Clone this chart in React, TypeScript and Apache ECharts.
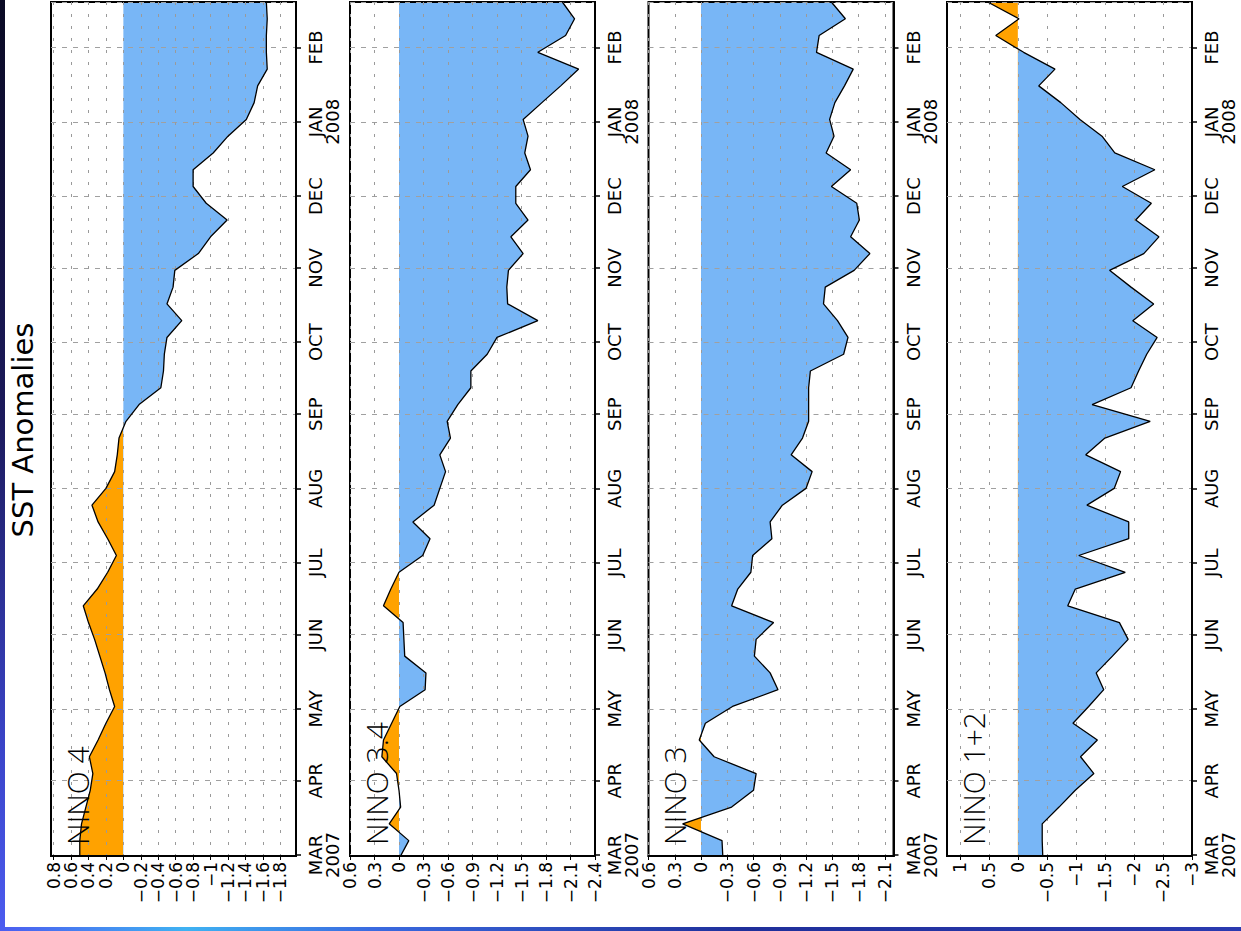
import React, { useEffect, useRef } from 'react';
import * as echarts from 'echarts';

// Weekly dates (Wednesday-centred weeks)
const weeks = [
  '2007-02-28', '2007-03-07', '2007-03-14', '2007-03-21', '2007-03-28',
  '2007-04-04', '2007-04-11', '2007-04-18', '2007-04-25',
  '2007-05-02', '2007-05-09', '2007-05-16', '2007-05-23', '2007-05-30',
  '2007-06-06', '2007-06-13', '2007-06-20', '2007-06-27',
  '2007-07-04', '2007-07-11', '2007-07-18', '2007-07-25',
  '2007-08-01', '2007-08-08', '2007-08-15', '2007-08-22', '2007-08-29',
  '2007-09-05', '2007-09-12', '2007-09-19', '2007-09-26',
  '2007-10-03', '2007-10-10', '2007-10-17', '2007-10-24', '2007-10-31',
  '2007-11-07', '2007-11-14', '2007-11-21', '2007-11-28',
  '2007-12-05', '2007-12-12', '2007-12-19', '2007-12-26',
  '2008-01-02', '2008-01-09', '2008-01-16', '2008-01-23', '2008-01-30',
  '2008-02-06', '2008-02-13', '2008-02-20',
];

const nino4 = [
  0.5, 0.5, 0.48, 0.43, 0.38, 0.35, 0.39, 0.29, 0.2, 0.1,
  0.16, 0.21, 0.27, 0.33, 0.4, 0.46, 0.3, 0.18, 0.08, 0.18,
  0.29, 0.36, 0.2, 0.1, 0.07, 0.05, -0.03, -0.18, -0.43, -0.46,
  -0.47, -0.5, -0.67, -0.5, -0.57, -0.59, -0.86, -1.0, -1.19, -0.95,
  -0.8, -0.8, -1.03, -1.2, -1.41, -1.5, -1.54, -1.65, -1.64, -1.64,
  -1.65, -1.64,
];

const nino34 = [
  -0.01, -0.12, 0.12, -0.02, 0.0, 0.03, 0.21, 0.19, 0.09, -0.01,
  -0.32, -0.33, -0.07, -0.06, -0.05, 0.19, 0.1, 0.0, -0.29, -0.38,
  -0.17, -0.43, -0.5, -0.57, -0.5, -0.63, -0.59, -0.72, -0.88, -0.88,
  -1.08, -1.2, -1.7, -1.33, -1.32, -1.34, -1.52, -1.37, -1.58, -1.43,
  -1.43, -1.61, -1.54, -1.58, -1.52, -1.75, -1.98, -2.2, -1.7, -2.04,
  -2.15, -2.0,
];

const nino3 = [
  -0.25, -0.24, 0.21, -0.35, -0.6, -0.63, -0.15, 0.02, -0.05, -0.36,
  -0.88, -0.79, -0.61, -0.63, -0.83, -0.35, -0.42, -0.57, -0.59, -0.81,
  -0.79, -0.93, -1.2, -1.27, -1.03, -1.16, -1.23, -1.23, -1.23, -1.25,
  -1.63, -1.68, -1.56, -1.4, -1.42, -1.75, -1.93, -1.71, -1.81, -1.78,
  -1.49, -1.71, -1.43, -1.52, -1.47, -1.53, -1.64, -1.74, -1.32, -1.35,
  -1.65, -1.49,
];

const nino12 = [
  -0.43, -0.42, -0.42, -0.71, -0.99, -1.31, -1.08, -1.37, -0.95, -1.22,
  -1.48, -1.35, -1.63, -1.9, -1.75, -0.86, -0.99, -1.85, -1.05, -1.91,
  -1.91, -1.19, -1.66, -1.77, -1.17, -1.5, -2.28, -1.28, -1.95, -2.08,
  -2.22, -2.4, -1.98, -2.34, -1.95, -1.58, -2.17, -2.43, -2.03, -2.3,
  -1.8, -2.36, -1.67, -1.45, -1.07, -0.74, -0.36, -0.64, -0.1, 0.38,
  -0.02, 0.52,
];

// value-axis tick labels for each panel
const ticks4 = [0.8, 0.6, 0.4, 0.2, 0, -0.2, -0.4, -0.6, -0.8, -1, -1.2, -1.4, -1.6, -1.8];
const ticks34 = [0.6, 0.3, 0, -0.3, -0.6, -0.9, -1.2, -1.5, -1.8, -2.1, -2.4];
const ticks3 = [0.6, 0.3, 0, -0.3, -0.6, -0.9, -1.2, -1.5, -1.8, -2.1];
const ticks12 = [1, 0.5, 0, -0.5, -1, -1.5, -2, -2.5, -3];

const panelNames = ['NINO 4', 'NINO 3.4', 'NINO 3', 'NINO 1+2'];
const panelSeries = [nino4, nino34, nino3, nino12];
const panelTicks = [ticks4, ticks34, ticks3, ticks12];
const axisMax = [0.83, 0.6, 0.6, 1.22];
const axisMin = [-1.98, -2.4, -2.2, -3];
const monthLabels = ['JAN', 'FEB', 'MAR', 'APR', 'MAY', 'JUN', 'JUL', 'AUG', 'SEP', 'OCT', 'NOV', 'DEC'];
const timeMin = '2007-02-28 14:00:00';
const timeMax = '2008-02-20';
const titleText = 'SST Anomalies';

// layout
const GRID_LEFT = [51, 350, 648.5, 947];
const GRID_W = 245;
const GRID_TOP = 2;
const GRID_H = 854;
const ORANGE = '#ffa200';
const BLUE = '#78b6f6';
const FONT = '"DejaVu Sans", "Liberation Sans", sans-serif';
const DAY = 86400000;

function fmtValue(v: number): string {
  const r = Math.round(v * 100) / 100;
  if (r === 0) return '0';
  const s = String(Math.abs(r));
  return r < 0 ? '\u2212' + s : s;
}

function fmtMonth(value: number): string {
  const d = new Date(value);
  if (d.getDate() !== 1 || d.getHours() !== 0) return '';
  const m = d.getMonth();
  const name = monthLabels[m];
  if (m === 0 || (m === 2 && d.getFullYear() === 2007)) return name + '\n' + d.getFullYear();
  return name;
}

function buildOption() {
  const grid: any[] = [];
  const xAxis: any[] = [];
  const yAxis: any[] = [];
  const series: any[] = [];
  const graphic: any[] = [];

  panelSeries.forEach((vals, i) => {
    grid.push({
      left: GRID_LEFT[i], top: GRID_TOP, width: GRID_W, height: GRID_H,
      show: true, borderColor: '#000', borderWidth: 2, backgroundColor: 'transparent',
      containLabel: false, outerBoundsMode: 'none',
    });
    xAxis.push({
      type: 'value', gridIndex: i, position: 'bottom', inverse: true,
      min: axisMin[i], max: axisMax[i],
      axisLine: { show: true, onZero: false, lineStyle: { color: '#000', width: 2 } },
      axisTick: { show: true, length: 4, customValues: panelTicks[i], lineStyle: { color: '#000', width: 1 } },
      axisLabel: {
        rotate: 90, margin: 6, fontFamily: FONT, fontSize: 17, color: '#000',
        customValues: panelTicks[i], showMinLabel: true, showMaxLabel: true, hideOverlap: false,
        formatter: (v: number) => fmtValue(v),
      },
      splitLine: { show: true, lineStyle: { color: '#9a9a9a', type: [3, 9], width: 1 } },
    });
    yAxis.push({
      type: 'time', gridIndex: i, position: 'right',
      min: timeMin, max: timeMax, splitNumber: 12, minInterval: 28 * DAY, maxInterval: 31 * DAY,
      axisLine: { show: true, onZero: false, lineStyle: { color: '#000', width: 2 } },
      axisTick: { show: true, length: 5, lineStyle: { color: '#000', width: 1.5 } },
      axisLabel: {
        rotate: 90, margin: 11, fontFamily: FONT, fontSize: 18, lineHeight: 17, color: '#000',
        formatter: (v: number) => fmtMonth(v), hideOverlap: false,
      },
      splitLine: { show: true, lineStyle: { color: '#a0a0a0', type: [5, 6], width: 1 } },
    });
    const data = weeks.map((d, k) => [vals[k], d]);
    series.push({
      type: 'line', id: 'fill' + i, name: panelNames[i] + ' fill', xAxisIndex: i, yAxisIndex: i, data,
      symbol: 'none', showSymbol: false, silent: true, z: -1,
      lineStyle: { width: 0 }, areaStyle: { opacity: 1, color: BLUE },
    });
    series.push({
      type: 'line', id: 'line' + i, name: panelNames[i], xAxisIndex: i, yAxisIndex: i, data,
      symbol: 'none', showSymbol: false, silent: true, z: 5,
      lineStyle: { color: '#000', width: 1.3 },
    });
    graphic.push({
      type: 'text', x: GRID_LEFT[i] + 26, y: 845, rotation: Math.PI / 2, z: 100,
      style: {
        text: panelNames[i], fontSize: 30, fontFamily: '"Open Sans", Roboto, Lato, "DejaVu Sans", sans-serif',
        fontWeight: 300, fill: '#000', align: 'left', verticalAlign: 'middle',
        textAlign: 'left', textVerticalAlign: 'middle',
      },
    });
  });

  graphic.push({
    type: 'rect', z: 100, shape: { x: 0, y: 0, width: 5, height: 931 },
    style: {
      fill: new echarts.graphic.LinearGradient(0, 0, 0, 1, [
        { offset: 0, color: '#0a0a24' },
        { offset: 0.45, color: '#1c1a5c' },
        { offset: 0.8, color: '#3a44c8' },
        { offset: 1, color: '#4c5cf0' },
      ]),
    },
  });
  graphic.push({
    type: 'rect', z: 100, shape: { x: 0, y: 927, width: 1241, height: 4 },
    style: {
      fill: new echarts.graphic.LinearGradient(0, 0, 1, 0, [
        { offset: 0, color: '#4c5cf0' },
        { offset: 0.15, color: '#3fb2f2' },
        { offset: 0.3, color: '#3a6ae0' },
        { offset: 0.6, color: '#1f2f9a' },
        { offset: 1, color: '#2a3ab0' },
      ]),
    },
  });
  graphic.push({
    type: 'text', x: 22.5, y: 430, rotation: Math.PI / 2, z: 100,
    style: {
      text: titleText, fontSize: 29, fontFamily: FONT, fill: '#000',
      align: 'center', verticalAlign: 'middle', textAlign: 'center', textVerticalAlign: 'middle',
    },
  });

  return {
    animation: false,
    backgroundColor: '#ffffff',
    grid, xAxis, yAxis, series, graphic,
  };
}

export default function App() {
  const ref = useRef<HTMLDivElement>(null);
  useEffect(() => {
    if (!ref.current) return;
    const chart = echarts.init(ref.current, null, { renderer: 'svg' });
    chart.setOption(buildOption() as any);
    // two-colour fill: orange on the positive side of zero, blue on the negative side,
    // split at the pixel where the library's x scale puts 0
    const update = panelSeries.map((_, i) => {
      const pLeft = chart.convertToPixel({ xAxisIndex: i } as any, axisMax[i]) as number;
      const pRight = chart.convertToPixel({ xAxisIndex: i } as any, axisMin[i]) as number;
      const pZero = chart.convertToPixel({ xAxisIndex: i } as any, 0) as number;
      const f = (pZero - pLeft) / (pRight - pLeft);
      return {
        id: 'fill' + i,
        areaStyle: {
          opacity: 1,
          color: new echarts.graphic.LinearGradient(pLeft, 0, pRight, 0, [
            { offset: 0, color: ORANGE },
            { offset: f, color: ORANGE },
            { offset: f, color: BLUE },
            { offset: 1, color: BLUE },
          ], true),
        },
      };
    });
    chart.setOption({ series: update } as any);
    return () => chart.dispose();
  }, []);
  return (
    <div
      ref={ref}
      style={{ position: 'absolute', left: 0, top: 0, width: 1241, height: 931, background: '#fff' }}
    />
  );
}
